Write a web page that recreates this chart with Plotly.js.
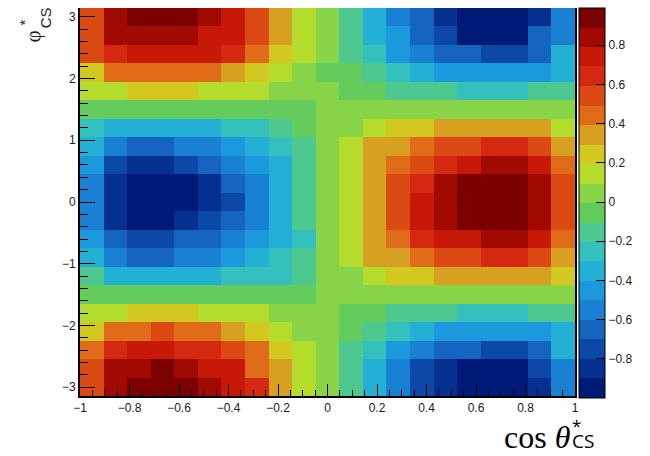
<!DOCTYPE html>
<html>
<head>
<meta charset="utf-8">
<script src="https://cdn.plot.ly/plotly-3.0.1.min.js"></script>
<style>
  html, body { margin: 0; padding: 0; background: #fff; }
  #chart { width: 650px; height: 456px; }
</style>
</head>
<body>
<div id="chart"></div>
<script>
// Binning of the Collins-Soper angular map
const cosThetaRange = [-1, 1];
const phiRange = [-Math.PI, Math.PI];
const nCosThetaBins = 21;
const nPhiBins = 21;

// Bin contents, one row per phi* bin, listed from phi* = +pi (top) down to phi* = -pi (bottom);
// columns run over cos(theta*) from -1 to +1.
const rowsTopDown = [
  [ 0.55, 0.85, 0.95, 0.95, 0.95, 0.85, 0.75, 0.55, 0.35, 0.15, 0.05,-0.15,-0.35,-0.55,-0.65,-0.85,-0.95,-0.95,-0.95,-0.85,-0.55],
  [ 0.55, 0.85, 0.85, 0.85, 0.85, 0.75, 0.75, 0.55, 0.35, 0.15, 0.05,-0.15,-0.35,-0.45,-0.65,-0.75,-0.95,-0.95,-0.95,-0.65,-0.55],
  [ 0.55, 0.65, 0.75, 0.75, 0.75, 0.75, 0.65, 0.45, 0.25, 0.15, 0.05,-0.15,-0.25,-0.45,-0.55,-0.65,-0.65,-0.75,-0.75,-0.65,-0.35],
  [ 0.25, 0.45, 0.45, 0.45, 0.45, 0.45, 0.35, 0.25, 0.15, 0.05,-0.05,-0.05,-0.15,-0.25,-0.35,-0.45,-0.45,-0.45,-0.45,-0.45,-0.35],
  [ 0.15, 0.15, 0.25, 0.25, 0.25, 0.15, 0.15, 0.15, 0.05, 0.05, 0.05,-0.05,-0.05,-0.15,-0.15,-0.15,-0.25,-0.25,-0.25,-0.15,-0.15],
  [-0.05,-0.05,-0.05,-0.05,-0.05,-0.05,-0.05,-0.05,-0.05,-0.05, 0.05, 0.05, 0.05, 0.05, 0.05, 0.05, 0.05, 0.05, 0.05, 0.05, 0.05],
  [-0.25,-0.35,-0.35,-0.35,-0.35,-0.35,-0.25,-0.25,-0.15,-0.05, 0.05, 0.05, 0.15, 0.25, 0.25, 0.35, 0.35, 0.35, 0.35, 0.35, 0.15],
  [-0.35,-0.55,-0.65,-0.65,-0.55,-0.55,-0.45,-0.35,-0.25,-0.15, 0.05, 0.15, 0.35, 0.35, 0.45, 0.55, 0.55, 0.65, 0.65, 0.55, 0.35],
  [-0.45,-0.75,-0.85,-0.85,-0.75,-0.65,-0.55,-0.45,-0.35,-0.15, 0.05, 0.15, 0.35, 0.45, 0.55, 0.65, 0.75, 0.85, 0.85, 0.75, 0.45],
  [-0.55,-0.85,-0.95,-0.95,-0.95,-0.85,-0.65,-0.55,-0.35,-0.15, 0.05, 0.15, 0.35, 0.55, 0.65, 0.85, 0.95, 0.95, 0.95, 0.85, 0.55],
  [-0.55,-0.85,-0.95,-0.95,-0.95,-0.85,-0.75,-0.55,-0.35,-0.15, 0.05, 0.15, 0.35, 0.55, 0.75, 0.85, 0.95, 0.95, 0.95, 0.85, 0.55],
  [-0.55,-0.85,-0.95,-0.95,-0.85,-0.75,-0.65,-0.55,-0.35,-0.15, 0.05, 0.15, 0.35, 0.55, 0.75, 0.85, 0.95, 0.95, 0.95, 0.85, 0.55],
  [-0.45,-0.65,-0.75,-0.75,-0.65,-0.65,-0.55,-0.45,-0.35,-0.25, 0.05, 0.15, 0.35, 0.45, 0.65, 0.75, 0.75, 0.85, 0.85, 0.75, 0.45],
  [-0.35,-0.55,-0.65,-0.65,-0.55,-0.55,-0.45,-0.35,-0.25,-0.15, 0.05, 0.15, 0.35, 0.35, 0.45, 0.55, 0.55, 0.65, 0.65, 0.55, 0.35],
  [-0.15,-0.35,-0.35,-0.35,-0.35,-0.35,-0.25,-0.25,-0.25,-0.15, 0.05, 0.05, 0.15, 0.25, 0.25, 0.35, 0.35, 0.35, 0.35, 0.35, 0.25],
  [-0.05,-0.05,-0.05,-0.05,-0.05,-0.05,-0.05,-0.05,-0.05,-0.05, 0.05, 0.05, 0.05, 0.05, 0.05, 0.05, 0.05, 0.05, 0.05, 0.05, 0.05],
  [ 0.15, 0.15, 0.25, 0.25, 0.25, 0.15, 0.15, 0.15, 0.05, 0.05, 0.05,-0.05,-0.05,-0.15,-0.15,-0.15,-0.25,-0.25,-0.25,-0.15,-0.15],
  [ 0.25, 0.45, 0.45, 0.55, 0.45, 0.45, 0.35, 0.25, 0.15, 0.05, 0.05,-0.05,-0.15,-0.25,-0.35,-0.45,-0.45,-0.45,-0.45,-0.45,-0.35],
  [ 0.45, 0.65, 0.75, 0.75, 0.65, 0.65, 0.55, 0.45, 0.25, 0.15, 0.05,-0.15,-0.25,-0.45,-0.55,-0.65,-0.65,-0.75,-0.75,-0.65,-0.35],
  [ 0.55, 0.85, 0.85, 0.95, 0.85, 0.75, 0.75, 0.45, 0.35, 0.15, 0.05,-0.15,-0.35,-0.55,-0.75,-0.85,-0.95,-0.95,-0.95,-0.75,-0.55],
  [ 0.55, 0.85, 0.95, 0.95, 0.95, 0.85, 0.75, 0.65, 0.35, 0.15, 0.05,-0.15,-0.35,-0.55,-0.75,-0.85,-0.95,-0.95,-0.95,-0.85,-0.55]
];

// Colour-axis limits and tick positions
const zRange = [-1, 0.99];
const colorbarTicks = [-0.8, -0.6, -0.4, -0.2, 0, 0.2, 0.4, 0.6, 0.8];

// 20-level rainbow palette, low to high
const paletteLevels = [
  '#001a78', '#063090', '#0c48a8', '#1464c0', '#1a80d4',
  '#1c98dc', '#22b0d4', '#34c0bc', '#4cc890', '#64cc5c',
  '#88d448', '#b4dc2c', '#d2c820', '#d8a020', '#e06c1a',
  '#dc4a14', '#d42810', '#c81808', '#a00a00', '#7d0000'
];

// Stepped colour scale: each palette entry covers an equal slice of the z range
const colorscale = [];
paletteLevels.forEach((c, k) => {
  colorscale.push([k / paletteLevels.length, c]);
  colorscale.push([(k + 1) / paletteLevels.length, c]);
});

const dx = (cosThetaRange[1] - cosThetaRange[0]) / nCosThetaBins;
const dy = (phiRange[1] - phiRange[0]) / nPhiBins;
const zBottomUp = rowsTopDown.slice().reverse();

// Frame geometry in pixels, used to place the free-floating labels
const frame = { left: 80, right: 579, top: 8, bottom: 396 };
const px2x = p => (p - frame.left) / (frame.right - frame.left);
const px2y = p => (frame.bottom - p) / (frame.bottom - frame.top);

const tickFont = { family: 'Liberation Sans, Arial, sans-serif', size: 12, color: '#1a1a1a' };

const trace = {
  type: 'heatmap',
  z: zBottomUp,
  x0: cosThetaRange[0] + dx / 2,
  dx: dx,
  y0: phiRange[0] + dy / 2,
  dy: dy,
  zmin: zRange[0],
  zmax: zRange[1],
  colorscale: colorscale,
  zsmooth: false,
  hoverinfo: 'skip',
  colorbar: {
    thickness: 26,
    thicknessmode: 'pixels',
    len: 390,
    lenmode: 'pixels',
    x: px2x(583),
    xanchor: 'left',
    xpad: 0,
    y: 1,
    yanchor: 'top',
    ypad: 0,
    outlinewidth: 1,
    outlinecolor: '#000',
    ticks: 'inside',
    ticklen: 9,
    tickwidth: 1,
    tickcolor: '#000',
    tickmode: 'array',
    tickvals: colorbarTicks,
    tickfont: tickFont
  }
};

const layout = {
  width: 650,
  height: 456,
  margin: { l: frame.left, r: 650 - frame.right, t: frame.top, b: 456 - frame.bottom, pad: 0 },
  paper_bgcolor: '#fff',
  plot_bgcolor: '#fff',
  showlegend: false,
  xaxis: {
    range: cosThetaRange,
    tickmode: 'linear',
    tick0: -1,
    dtick: 0.2,
    ticks: 'inside',
    ticklen: 12,
    tickwidth: 1,
    tickcolor: '#000',
    minor: { ticks: 'inside', dtick: 0.05, tick0: -1, ticklen: 6, tickcolor: '#000', tickwidth: 1 },
    showline: true,
    linecolor: '#000',
    linewidth: 2,
    showgrid: false,
    zeroline: false,
    tickfont: tickFont
  },
  yaxis: {
    range: phiRange,
    tickmode: 'linear',
    tick0: 0,
    dtick: 1,
    ticks: 'inside',
    ticklen: 15,
    tickwidth: 1,
    tickcolor: '#000',
    minor: { ticks: 'inside', dtick: 0.2, tick0: 0, ticklen: 8, tickcolor: '#000', tickwidth: 1 },
    showline: true,
    mirror: true,
    linecolor: '#000',
    linewidth: 2,
    showgrid: false,
    zeroline: false,
    tickfont: tickFont
  },
  annotations: [
    // x-axis title: cos θ, followed by the star stacked above the CS subscript
    { xref: 'paper', yref: 'paper', x: px2x(505), y: px2y(437), xanchor: 'left', yanchor: 'middle',
      text: 'cos <i>θ</i>', showarrow: false,
      font: { family: 'Liberation Serif, Times New Roman, serif', size: 32, color: '#000' } },
    { xref: 'paper', yref: 'paper', x: px2x(574), y: px2y(434), xanchor: 'left', yanchor: 'middle',
      align: 'left',
      text: '<span style="font-size:17px">*</span><br><span style="font-size:19px">CS</span>',
      showarrow: false,
      font: { family: 'Open Sans, sans-serif', size: 12, color: '#000' } },
    // y-axis title: φ*_CS, rotated
    { xref: 'paper', yref: 'paper', x: px2x(33), y: px2y(36), xanchor: 'center', yanchor: 'middle',
      text: 'φ', textangle: -90, showarrow: false,
      font: { family: 'Liberation Serif, serif', size: 21, color: '#222' } },
    { xref: 'paper', yref: 'paper', x: px2x(25), y: px2y(22), xanchor: 'center', yanchor: 'middle',
      text: '*', textangle: -90, showarrow: false,
      font: { family: 'Liberation Sans, sans-serif', size: 15, color: '#222' } },
    { xref: 'paper', yref: 'paper', x: px2x(45), y: px2y(18), xanchor: 'center', yanchor: 'middle',
      text: 'CS', textangle: -90, showarrow: false,
      font: { family: 'Liberation Sans, sans-serif', size: 15, color: '#222' } }
  ]
};

Plotly.newPlot('chart', [trace], layout, { staticPlot: true, displayModeBar: false });
</script>
</body>
</html>
